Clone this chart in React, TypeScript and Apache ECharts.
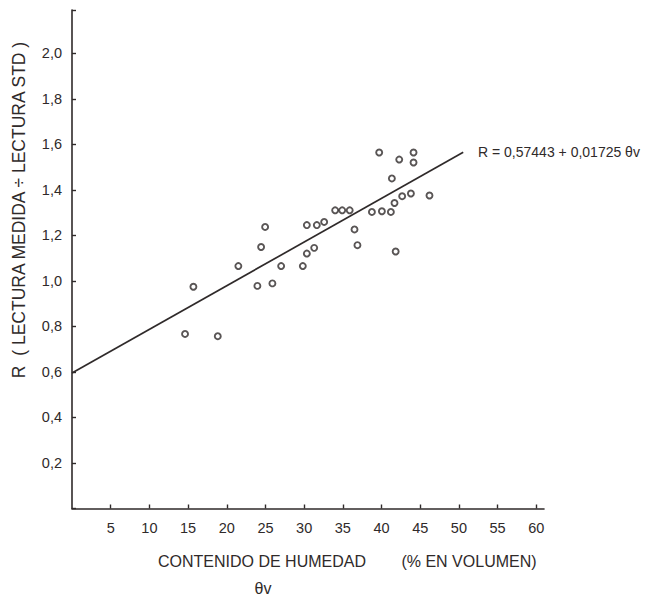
import React, { useEffect, useRef } from "react";
import * as echarts from "echarts";

// Moisture content θv (% by volume) of each measured point
const moisture = [
  14.61, 15.69, 18.84, 21.5, 23.96, 24.44, 24.96, 25.9, 27.03, 29.83, 30.35,
  30.35, 31.3, 31.64, 32.59, 34.01, 34.92, 35.89, 36.51, 36.89, 38.76, 39.7,
  40.05, 41.21, 41.34, 41.68, 41.83, 42.29, 42.67, 43.8, 44.14, 44.14, 46.2,
];
// R = measured reading / standard reading
const ratio = [
  0.767, 0.974, 0.757, 1.065, 0.978, 1.149, 1.237, 0.989, 1.065, 1.065, 1.245,
  1.12, 1.145, 1.245, 1.259, 1.31, 1.31, 1.31, 1.226, 1.157, 1.303, 1.564,
  1.306, 1.303, 1.45, 1.342, 1.129, 1.533, 1.372, 1.384, 1.564, 1.52, 1.375,
];
// Fitted line as drawn
const fitX = [0, 50.56];
const fitY = [0.595, 1.565];

const xTickLabels = ["5", "10", "15", "20", "25", "30", "35", "40", "45", "50", "55", "60"];
const yTickLabels = ["0,2", "0,4", "0,6", "0,8", "1,0", "1,2", "1,4", "1,6", "1,8", "2,0"];

const xTitle = "CONTENIDO DE HUMEDAD";
const xUnit = "(% EN VOLUMEN)";
const xSymbol = "θv";
const yTitle = "R  ( LECTURA MEDIDA ÷ LECTURA STD )";
const equation = "R = 0,57443 + 0,01725 θv";

const INK = "#2f2a2a";
const FONT = "'Liberation Sans', 'DejaVu Sans', sans-serif";

export default function App() {
  const ref = useRef<HTMLDivElement>(null);
  useEffect(() => {
    if (!ref.current) return;
    const chart = echarts.init(ref.current, undefined, { renderer: "svg" });
    const points = moisture.map((x, i) => [x, ratio[i]]);
    const line = fitX.map((x, i) => [x, fitY[i]]);
    chart.setOption({
      animation: false,
      backgroundColor: "#ffffff",
      grid: { left: 72, right: 114, top: 10, bottom: 89.5, containLabel: false },
      xAxis: {
        type: "value",
        min: 0,
        max: 61,
        interval: 5,
        splitLine: { show: false },
        axisLine: { show: true, onZero: false, lineStyle: { color: INK, width: 1.6 } },
        axisTick: { show: true, inside: true, length: 4, lineStyle: { color: INK, width: 1.4 } },
        axisLabel: {
          margin: 12,
          color: INK,
          fontSize: 14.5,
          fontFamily: FONT,
          showMinLabel: false,
          showMaxLabel: false,
          formatter: (v: number) => {
            const s = String(Math.round(v));
            return xTickLabels.includes(s) && Math.abs(v - Math.round(v)) < 1e-6 ? s : "";
          },
        },
      },
      yAxis: {
        type: "value",
        min: 0,
        max: 2.19,
        interval: 0.2,
        splitLine: { show: false },
        axisLine: { show: true, onZero: false, lineStyle: { color: INK, width: 1.6 } },
        axisTick: { show: true, inside: true, length: 4, lineStyle: { color: INK, width: 1.4 } },
        axisLabel: {
          margin: 10,
          color: INK,
          fontSize: 14.5,
          fontFamily: FONT,
          formatter: (v: number) => {
            const s = v.toFixed(1).replace(".", ",");
            return yTickLabels.includes(s) ? s : "";
          },
        },
      },
      series: [
        {
          type: "line",
          data: line,
          symbol: "none",
          silent: true,
          lineStyle: { color: INK, width: 1.7 },
          z: 2,
        },
        {
          type: "scatter",
          data: points,
          symbol: "circle",
          symbolSize: 6,
          itemStyle: { color: "#ffffff", borderColor: INK, borderWidth: 1.9 },
          z: 3,
        },
      ],
      graphic: [
        {
          type: "text",
          x: 19,
          y: 210,
          rotation: Math.PI / 2,
          style: {
            text: yTitle,
            fill: INK,
            fontSize: 17.5,
            fontFamily: FONT,
            align: "center",
            verticalAlign: "middle",
          },
        },
        {
          type: "text",
          x: 262,
          y: 561,
          style: {
            text: xTitle,
            fill: INK,
            fontSize: 16,
            fontFamily: FONT,
            align: "center",
            verticalAlign: "middle",
          },
        },
        {
          type: "text",
          x: 469,
          y: 561,
          style: {
            text: xUnit,
            fill: INK,
            fontSize: 16,
            fontFamily: FONT,
            align: "center",
            verticalAlign: "middle",
          },
        },
        {
          type: "text",
          x: 263,
          y: 588,
          style: {
            text: xSymbol,
            fill: INK,
            fontSize: 16,
            fontFamily: FONT,
            align: "center",
            verticalAlign: "middle",
          },
        },
        {
          type: "text",
          x: 478,
          y: 152,
          style: {
            text: equation,
            fill: INK,
            fontSize: 14,
            fontFamily: FONT,
            align: "left",
            verticalAlign: "middle",
          },
        },
      ],
    });
    return () => chart.dispose();
  }, []);
  return (
    <div
      ref={ref}
      style={{ position: "fixed", left: 0, top: 0, width: 658, height: 598, background: "#fff" }}
    />
  );
}
